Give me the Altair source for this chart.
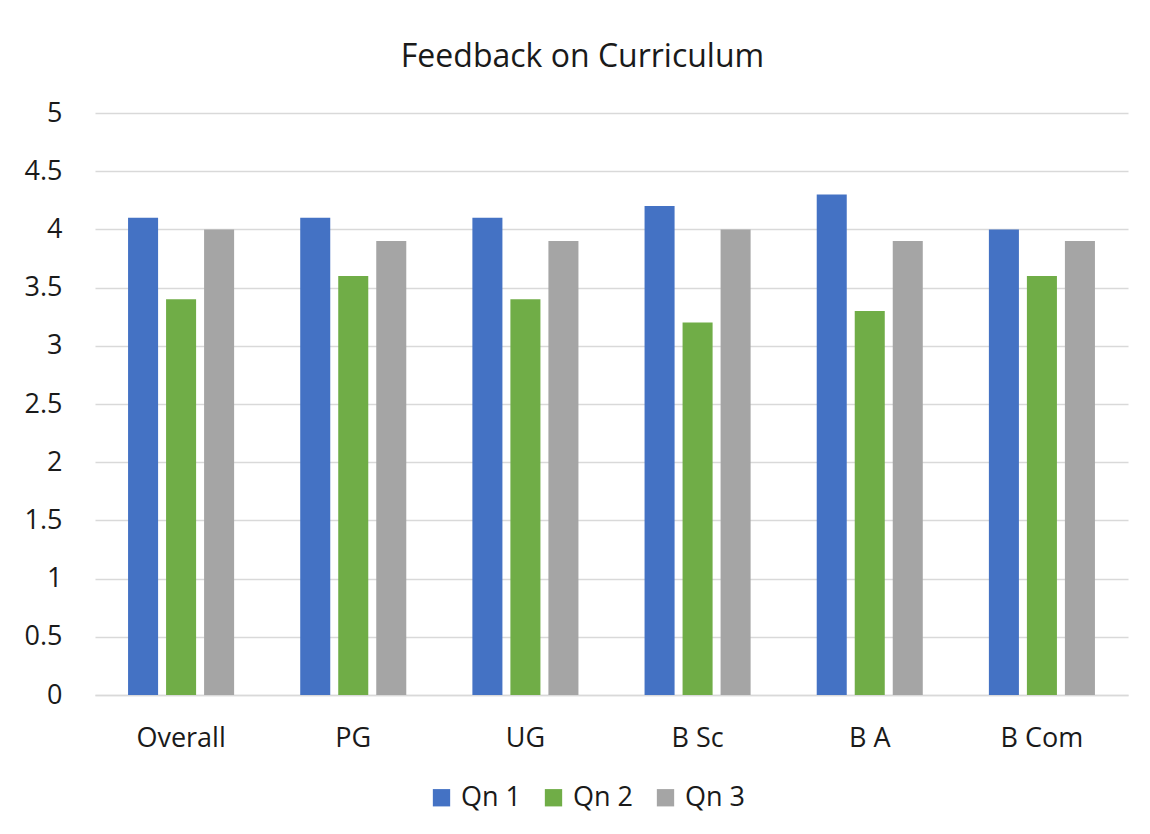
import altair as alt
import pandas as pd

categories = ["Overall", "PG", "UG", "B Sc", "B A", "B Com"]
series = ["Qn 1", "Qn 2", "Qn 3"]
qn1 = [4.1, 4.1, 4.1, 4.2, 4.3, 4.0]
qn2 = [3.4, 3.6, 3.4, 3.2, 3.3, 3.6]
qn3 = [4.0, 3.9, 3.9, 4.0, 3.9, 3.9]
colors = ["#4472C4", "#70AD47", "#A5A5A5"]

rows = []
for i, c in enumerate(categories):
    for s, vals in zip(series, [qn1, qn2, qn3]):
        rows.append({"Group": c, "Series": s, "Value": vals[i]})
df = pd.DataFrame(rows)

FONT = "Open Sans"
TXT = "#1a1a1a"

chart = alt.Chart(df).mark_bar().encode(
    x=alt.X("Group:N", sort=categories, title=None,
            scale=alt.Scale(paddingInner=0.384, paddingOuter=0.192),
            axis=alt.Axis(labelAngle=0, labelFontSize=27, labelFont=FONT,
                          labelColor=TXT, labelPadding=30, ticks=False,
                          domainColor="#D9D9D9", domainWidth=1.5)),
    xOffset=alt.XOffset("Series:N", sort=series,
                        scale=alt.Scale(paddingInner=0.21, paddingOuter=0)),
    y=alt.Y("Value:Q", title=None,
            scale=alt.Scale(domain=[0, 5], nice=False),
            axis=alt.Axis(values=[0, 0.5, 1, 1.5, 2, 2.5, 3, 3.5, 4, 4.5, 5],
                          format="~g", labelFontSize=27, labelFont=FONT,
                          labelColor=TXT, labelPadding=33, ticks=False,
                          domain=False, gridColor="#D9D9D9", gridWidth=1.5)),
    color=alt.Color("Series:N", sort=series,
                    scale=alt.Scale(domain=series, range=colors),
                    legend=alt.Legend(title=None, orient="none", direction="horizontal",
                                      legendX=333, legendY=671,
                                      symbolType="square", symbolSize=300,
                                      symbolStrokeWidth=0,
                                      labelFontSize=27, labelFont=FONT,
                                      labelColor=TXT, columnPadding=18,
                                      labelOffset=6)),
).properties(
    width=1033,
    height=582,
    title=alt.TitleParams("Feedback on Curriculum", fontSize=32, font=FONT,
                          fontWeight="normal", color=TXT,
                          anchor="middle", dx=-29, offset=25),
    autosize=alt.AutoSizeParams(type="none"),
    padding={"left": 87, "top": 105, "right": 14, "bottom": 131},
).configure(background="white", view=alt.ViewConfig(stroke=None))

chart.save("out.html", embed_options={"renderer": "svg", "actions": False})
